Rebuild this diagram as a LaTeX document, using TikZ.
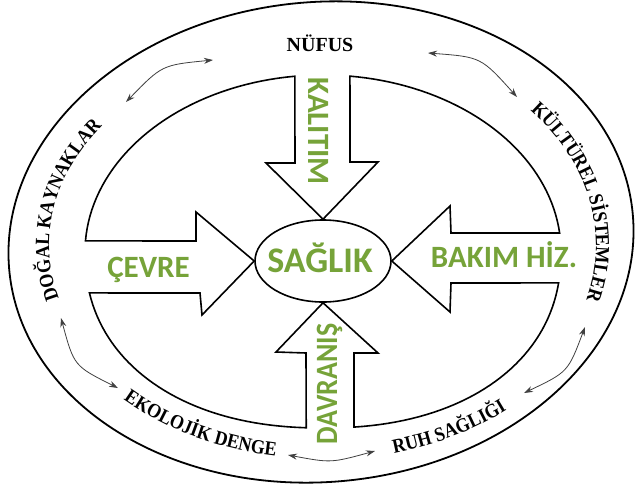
\documentclass[tikz,border=0pt]{standalone}
\usepackage{fontspec}
\setmainfont{Liberation Serif}
\newfontfamily\lblfam{Liberation Serif}
\newfontfamily\arcfam{Liberation Serif}[FakeStretch=0.9]
\newfontfamily\grnfam{Carlito}
\usetikzlibrary{arrows.meta,decorations.text,shapes.geometric}
\definecolor{leafgreen}{RGB}{118,163,57}
\newcommand\lblfont{\lblfam\bfseries\fontsize{20}{22}\selectfont}
\newcommand\arcfont{\arcfam\bfseries\fontsize{20}{22}\selectfont}
\tikzset{
  piece/.style={draw=black, line width=1.6pt, line join=miter},
  link/.style={draw=black!75, line width=0.8pt, {Stealth[length=9pt,width=6pt]}-{Stealth[length=9pt,width=6pt]}},
  grn/.style={font=\grnfam\bfseries\fontsize{31}{36}\selectfont, text=leafgreen, inner sep=0pt},
  lbl/.style={font=\lblfont, inner sep=0pt},
  arclabel/.style={decorate, decoration={text along path, text align=center, text={|\arcfont|#1}}},
}
\begin{document}
\begin{tikzpicture}[x=1pt,y=-1pt]
\useasboundingbox (0,0) rectangle (637,490);
\fill[white] (0,0) rectangle (637,490);
% outer ellipse
\draw[line width=1.8pt, rotate around={5:(321,242)}] (321,242) ellipse [x radius=313, y radius=240];
% centre
\node[ellipse, draw, line width=1.6pt, minimum width=136pt, minimum height=82pt, inner sep=0pt] (sag) at (323,261) {};
\node[grn, font=\grnfam\bfseries\fontsize{36}{40}\selectfont, anchor=base] (saglik) at (320,272) {SAĞLIK};
% four pieces of the inner ring
\draw[piece] (sag.north) -- (266,163) -- (295,163)
  -- plot[domain=-263.2:-183.6, samples=40] ({323+238*cos(-\x)},{252+177*sin(-\x)})
  -- (196,241) -- (196,212) -- (sag.west);
\draw[piece] (sag.east) -- (450,206) -- (451,233)
  -- plot[domain=-353.84:-276.5, samples=40] ({323+238*cos(-\x)},{252+177*sin(-\x)})
  -- (350,162) -- (378,162) -- (sag.north);
\draw[piece] (sag.south) -- (378,353) -- (354,353)
  -- plot[domain=-83.9:-8.5, samples=40] ({323+238*cos(-\x)*pow(abs(cos(-\x)),-0.0909)},{252+176*sin(-\x)*pow(abs(sin(-\x)),-0.0909)})
  -- (451,283) -- (450,312) -- (sag.east);
\draw[piece] (sag.west) -- (202,315) -- (200,293)
  -- plot[domain=-168.4:-93.1, samples=40] ({323+238*cos(-\x)*pow(abs(cos(-\x)),-0.0909)},{252+176*sin(-\x)*pow(abs(sin(-\x)),-0.0909)})
  -- (306,353) -- (276,352) -- (sag.south);
% green labels
\node[grn, rotate=-90, anchor=base] (kal) at (308,131) {KALITIM};
\node[grn, rotate=90, anchor=base] (dav) at (337,384) {\scalebox{0.9}[1]{DAVRANIŞ}};
\node[grn, anchor=base] (cev) at (148.5,277) {ÇEVRE};
\node[grn, anchor=base] (bak) at (504,267) {BAKIM HİZ.};
% black labels
\node[lbl, anchor=base] (nuf) at (320,51) {NÜFUS};
\path[arclabel={DOĞAL KAYNAKLAR}] plot[domain=155:225, samples=36] ({321+272*cos(\x)},{245+200*sin(\x)});
\path[arclabel={KÜLTÜREL SİSTEMLER}] plot[domain=-48.1:23.9, samples=36] ({321+275*cos(\x)},{245+208*sin(\x)});
\path[arclabel={EKOLOJİK DENGE}] plot[domain=-143.1:-91.1, samples=27] ({321+285*cos(-\x)},{245+214*sin(-\x)});
\path[arclabel={RUH SAĞLIĞI}] plot[domain=-84.2:-40.2, samples=23] ({321+290*cos(-\x)},{245+215*sin(-\x)});
% double arrows
\coordinate (l1a) at (126,102); \coordinate (l1b) at (213,60);
\coordinate (l2a) at (428,53);  \coordinate (l2b) at (517,97);
\coordinate (l3a) at (61,318);  \coordinate (l3b) at (118,388);
\coordinate (l4a) at (585,327); \coordinate (l4b) at (524,393);
\coordinate (l5a) at (288,455); \coordinate (l5b) at (375,451);
\draw[link] (l1a) .. controls (162,65) .. (l1b);
\draw[link] (l2a) .. controls (481,57) .. (l2b);
\draw[link] (l3a) .. controls (74,366) .. (l3b);
\draw[link] (l4a) .. controls (568,372) .. (l4b);
\draw[link] (l5a) .. controls (331,463) .. (l5b);
\end{tikzpicture}
\end{document}
